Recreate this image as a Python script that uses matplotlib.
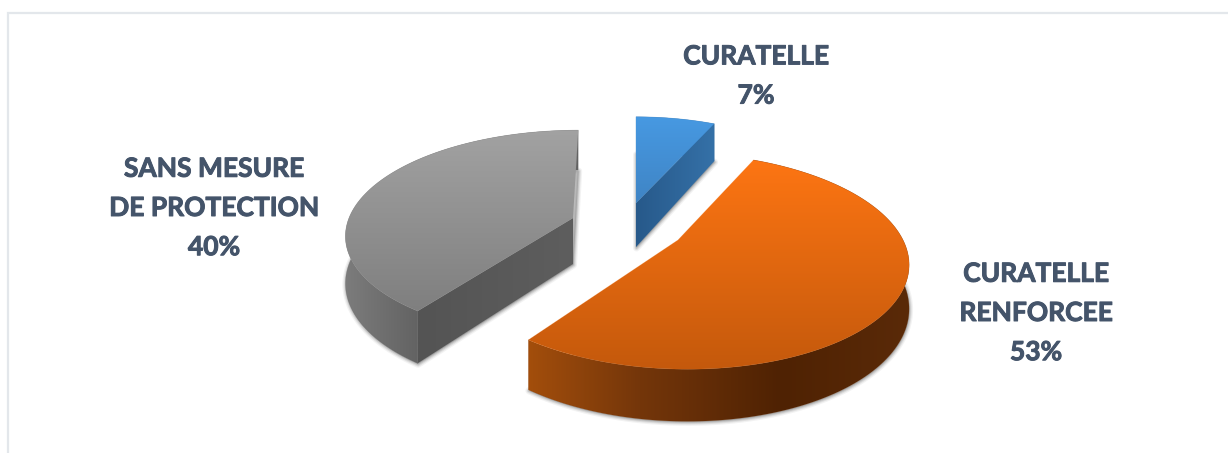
import numpy as np
import matplotlib
matplotlib.use("Agg")
import matplotlib.pyplot as plt
from matplotlib.patches import Polygon
from matplotlib.colors import to_rgb
import matplotlib.patheffects as pe

# ---- data ----
categories = ["CURATELLE", "CURATELLE\nRENFORCEE", "SANS MESURE\nDE PROTECTION"]
values = [7, 53, 40]

# ---- layout / style ----
W, H = 1228, 453
TEXT = "#44546A"
START = 90.0
wedge_style = [
    dict(cx=636, cy=203, a=216, b=103, c=0, k=0.195, t=44,
         top=[(117, "#4799E2"), (205, "#3F84C4")],
         rim=[(630, "#3571A8"), (720, "#3571A8")],
         face=[(636, "#27598A"), (714, "#3571A8")], face_edge=-1),
    dict(cx=678, cy=240, a=225, b=104, c=-7.7, k=0.195, t=42,
         top=[(153, "#FF7613"), (370, "#C4590C")],
         rim=[(528, "#A34E0C"), (640, "#74360A"), (780, "#4F2203"), (910, "#5A2A08")],
         face=None, face_edge=None),
    dict(cx=573, cy=218, a=224, b=101, c=6, k=0.15, t=46,
         top=[(130, "#A2A2A2"), (316, "#7E7E7E")],
         rim=[(345, "#7C7C7C"), (420, "#626262")],
         face=[(420, "#545454"), (574, "#5E5E5E")], face_edge=0),
]
label_pos = [(756, 76), (1036, 313), (214, 208)]

fig = plt.figure(figsize=(W / 100, H / 100), dpi=100, facecolor="white")
ax = fig.add_axes([0, 0, 1, 1])
ax.axis("off")


def project(theta, r, z, s):
    x, y = r * np.cos(theta), r * np.sin(theta)
    d = 1 + s["k"] * y
    return (s["cx"] + (s["a"] * x + s["c"] * y) / d,
            s["cy"] - s["b"] * y / d + z * s["t"] / d)


def gradient(stops, axis, poly, zorder):
    """Fill a polygon with a linear gradient along x (axis=0) or y (axis=1)."""
    pos = [p for p, _ in stops]
    cols = np.array([to_rgb(c) for _, c in stops])
    coord = poly[:, axis]
    lo, hi = min(pos[0], coord.min()) - 1, max(pos[-1], coord.max()) + 1
    t = np.linspace(lo, hi, 512)
    rgb = np.stack([np.interp(t, pos, cols[:, i]) for i in range(3)], axis=-1)
    if axis == 0:
        img = rgb[np.newaxis, :, :]
        ext = (lo, hi, H, 0)
    else:
        img = rgb[:, np.newaxis, :]
        ext = (0, W, hi, lo)
    im = ax.imshow(img, extent=ext, aspect="auto", origin="upper", zorder=zorder,
                   interpolation="bilinear")
    patch = Polygon(poly, closed=True, transform=ax.transData, fc="none", ec="none")
    im.set_clip_path(patch)
    ax.add_patch(Polygon(poly, closed=True, fc="none", ec=rgb[len(rgb) // 4], lw=0.4,
                         alpha=0.3, zorder=zorder + 0.01, joinstyle="round"))


angle = START
total = sum(values)
for i, (v, s) in enumerate(zip(values, wedge_style)):
    span = v / total * 360.0
    th = np.radians(np.linspace(angle, angle - span, 160))
    angle -= span
    base = 10 + i * 5

    rx, ry = project(th, 1.0, 0, s)
    top = np.column_stack([np.r_[s["cx"], rx], np.r_[s["cy"], ry]])
    bx, by = project(th, 1.0, 1, s)
    ax0, ay0 = project(0.0, 0.0, 1, s)
    bottom = np.column_stack([np.r_[ax0, bx], np.r_[ay0, by]])

    # soft contact shadow from the underside of the wedge
    for lw, al in [(5, 0.10), (3.2, 0.18), (1.6, 0.28)]:
        ax.add_patch(Polygon(bottom + [0.5, 1.0], closed=True, fc="#888888", ec="#888888",
                             lw=lw, alpha=al, zorder=base, joinstyle="round"))

    # outer rim band
    band = np.vstack([np.column_stack([rx, ry]), np.column_stack([bx, by])[::-1]])
    gradient(s["rim"], 0, band, base + 1)

    # inner cut face
    if s["face"] is not None:
        ei = th[s["face_edge"]]
        ex, ey = project(ei, 1.0, 0, s)
        ebx, eby = project(ei, 1.0, 1, s)
        face = np.array([[s["cx"], s["cy"]], [ex, ey], [ebx, eby], [ax0, ay0]])
        gradient(s["face"], 0, face, base + 2)

    # top surface
    gradient(s["top"], 1, top, base + 3)

for cat, v, (px, py) in zip(categories, values, label_pos):
    ax.text(px, py, f"{cat}\n{v}%", ha="center", va="center", color=TEXT,
            family=["Lato", "DejaVu Sans"], weight="bold", fontsize=19,
            linespacing=1.76, zorder=40,
            path_effects=[pe.withStroke(linewidth=0.7, foreground=TEXT)])

# thin frame (top and left only)
ax.plot([8, 8, W], [H, 13, 13], color="#E3E7EB", lw=1.6, solid_joinstyle="miter", zorder=1)

ax.set_xlim(0, W)
ax.set_ylim(H, 0)
fig.savefig("out.png", dpi=100, facecolor="white")
